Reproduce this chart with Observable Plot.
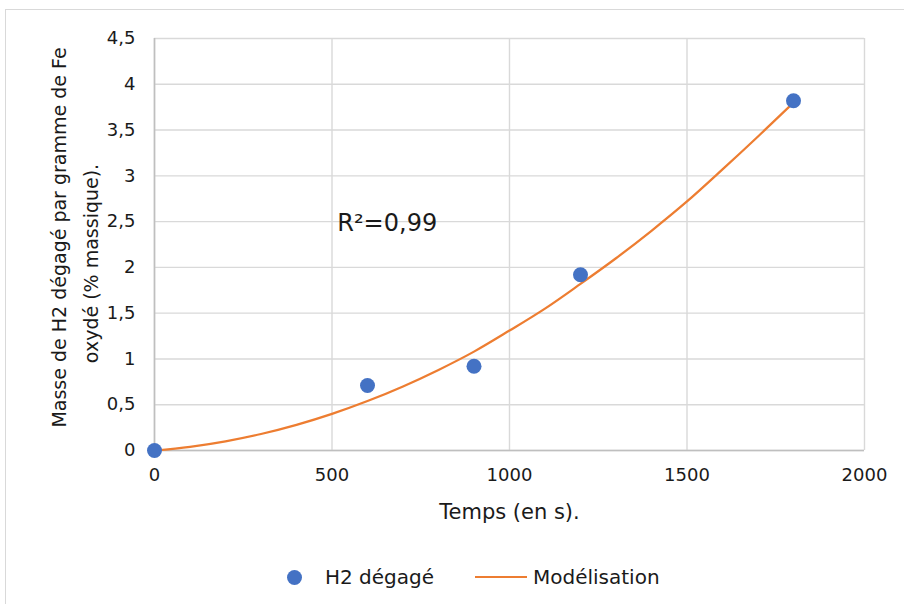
<!DOCTYPE html>
<html><head><meta charset="utf-8">
<script src="https://cdn.jsdelivr.net/npm/d3@7"></script>
<script src="https://cdn.jsdelivr.net/npm/@observablehq/plot@0.6"></script>
<style>
body{margin:0;background:#fff;width:904px;height:604px;overflow:hidden;position:relative;font-family:"DejaVu Sans",sans-serif;color:#1a1a1a}
#frame{position:absolute;left:5px;top:9px;width:1000px;height:1000px;border-left:1px solid #d9d9d9;border-top:1px solid #d9d9d9}
#chart{position:absolute;left:0;top:0}
.lg{position:absolute;font-size:20px;line-height:24px;white-space:nowrap}
</style></head>
<body>
<div id="frame"></div>
<div id="chart"></div>
<div id="legend"></div>
<script>
// Mesures
const temps = [0, 600, 900, 1200, 1800];
const h2Degage = [0, 0.71, 0.92, 1.92, 3.82];
// Courbe de modélisation
const modTemps = [0,100,200,300,400,500,600,700,800,900,1000,1100,1200,1300,1400,1500,1600,1700,1800];
const modValeurs = [0,0.04,0.10,0.18,0.28,0.40,0.54,0.70,0.88,1.08,1.31,1.55,1.82,2.10,2.40,2.72,3.07,3.43,3.80];
const xTicks = [0,500,1000,1500,2000];
const yTicks = [0,0.5,1,1.5,2,2.5,3,3.5,4,4.5];
const seriesNames = ["H2 dégagé", "Modélisation"];
const xTitle = "Temps (en s).";
const yTitle = ["Masse de H2 dégagé par gramme de Fe", "oxydé (% massique)."];
const r2Text = ["R²=0,99"];

const blue = "#4472C4", orange = "#ED7D31";
const points = temps.map((t, i) => ({t, v: h2Degage[i]}));
const model = modTemps.map((t, i) => ({t, v: modValeurs[i]}));

const fmtY = d => String(d).replace(".", ",");
const plot = Plot.plot({
  width: 904, height: 540,
  marginLeft: 154, marginRight: 40, marginTop: 38, marginBottom: 90,
  style: {fontFamily: "DejaVu Sans, sans-serif", fontSize: "18px", color: "#1a1a1a", background: "transparent", overflow: "visible"},
  x: {domain: [0, 2000]},
  y: {domain: [0, 4.5]},
  marks: [
    Plot.gridX(xTicks, {stroke: "#d9d9d9", strokeOpacity: 1, strokeWidth: 1.4}),
    Plot.gridY(yTicks, {stroke: "#d9d9d9", strokeOpacity: 1, strokeWidth: 1.4}),
    Plot.ruleX([0], {stroke: "#bfbfbf", strokeWidth: 1.6}),
    Plot.ruleY([0], {stroke: "#bfbfbf", strokeWidth: 1.6}),
    Plot.axisX(xTicks, {tickSize: 0, tickPadding: 18, tickFormat: d => String(d), fontSize: 18, label: null}),
    Plot.axisY(yTicks, {tickSize: 0, tickPadding: 19, tickFormat: fmtY, fontSize: 18, label: null}),
    Plot.line(model, {x: "t", y: "v", stroke: orange, strokeWidth: 2.25, curve: "catmull-rom"}),
    Plot.dot(points, {x: "t", y: "v", r: 7.5, fill: blue, stroke: null}),
    Plot.text(r2Text, {x: () => 515, y: () => 2.48, text: d => d, textAnchor: "start", fontSize: 24, fill: "#1a1a1a"}),
    Plot.text([xTitle], {frameAnchor: "bottom", text: d => d, dy: 68, lineAnchor: "bottom", fontSize: 21, fill: "#1a1a1a"}),
    Plot.text([yTitle[0]], {frameAnchor: "left", text: d => d, rotate: -90, textAnchor: "middle", dx: -89, dy: -7, lineAnchor: "bottom", fontSize: 19, fill: "#1a1a1a"}),
    Plot.text([yTitle[1]], {frameAnchor: "left", text: d => d, rotate: -90, textAnchor: "middle", dx: -57, dy: 19, lineAnchor: "bottom", fontSize: 19, fill: "#1a1a1a"})
  ]
});
document.getElementById("chart").appendChild(plot);

// Légende
const lg = document.getElementById("legend");
lg.innerHTML = `
<div style="position:absolute;left:287px;top:570px;width:15px;height:15px;border-radius:50%;background:${blue}"></div>
<div class="lg" style="left:325px;top:565px">${seriesNames[0]}</div>
<div style="position:absolute;left:475px;top:576px;width:52px;height:2px;background:${orange}"></div>
<div class="lg" style="left:533px;top:565px">${seriesNames[1]}</div>`;
</script>
</body></html>
